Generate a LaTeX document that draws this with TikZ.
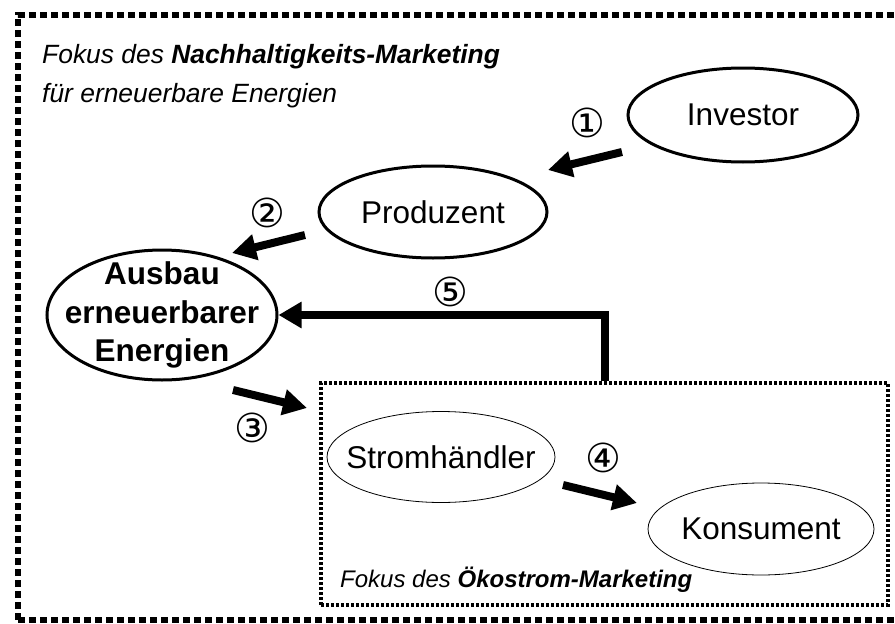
\documentclass[tikz,border=0pt]{standalone}
\usepackage{fontspec}
\setsansfont{Liberation Sans}
\newfontfamily\circfont{DejaVu Sans}
\usepackage{tikz}
\usetikzlibrary{shapes.geometric,arrows.meta}

\begin{document}
\begin{tikzpicture}[x=1pt,y=-1pt,
    actor/.style={draw,ellipse,line width=3pt,inner sep=0pt,minimum width=230pt,minimum height=94pt,font=\fontsize{31.5}{38}\selectfont},
    trader/.style={draw,ellipse,line width=0.8pt,inner xsep=-20pt,inner ysep=0pt,minimum width=228pt,minimum height=91pt,font=\fontsize{31.5}{38}\selectfont},
    stepnum/.style={font=\circfont\fontsize{40}{44}\selectfont,inner sep=0pt},
    flow/.style={-{Triangle[length=24pt,width=25pt]},line width=8pt}]
    \sffamily
    \useasboundingbox (0,0) rectangle (895,624);
    \draw[line width=6pt,dash pattern=on 7pt off 4pt] (18,620) -- (18,15) -- (915,15);
    \draw[line width=6pt,dash pattern=on 7pt off 4pt] (18,620) -- (915,620);
    \node[anchor=base west,inner sep=0pt,font=\fontsize{26.4}{39}\selectfont] (titel1) at (42,63) {\itshape Fokus des \bfseries Nachhaltigkeits-Marketing};
    \node[anchor=base west,inner sep=0pt,font=\fontsize{26.4}{39}\selectfont] (titel2) at (42,102) {\itshape für erneuerbare Energien};
    \node[actor] (inv) at (743,115) {Investor};
    \node[actor,minimum width=228pt,minimum height=92pt] (prod) at (433,212) {Produzent};
    \node[actor,inner xsep=-25pt,inner ysep=-10pt,minimum height=130pt,align=center,font=\bfseries\fontsize{31.5}{38.5}\selectfont] (ausbau) at (162,315) {Ausbau\\erneuerbarer\\Energien};
    \node[draw,line width=4pt,dash pattern=on 3pt off 2pt,minimum width=567pt,minimum height=222pt] (oeko) at (604.5,494) {};
    \node[trader] (strom) at (441,457) {Stromhändler};
    \node[trader,minimum width=226pt,minimum height=92pt] (kons) at (761,529) {Konsument};
    \node[anchor=base west,inner sep=0pt,font=\fontsize{24}{30}\selectfont] (titel3) at (340,587) {\itshape Fokus des \bfseries Ökostrom-Marketing};
    \coordinate (p1a) at (622,152);
    \coordinate (p1b) at (548,170);
    \coordinate (p2a) at (305,235);
    \coordinate (p2b) at (232,253);
    \coordinate (p3a) at (233,390);
    \coordinate (p3b) at (307,408);
    \coordinate (p4a) at (563,485);
    \coordinate (p4b) at (637,503);
    \draw[flow] (p1a) to (p1b);
    \draw[flow] (p2a) to (p2b);
    \draw[flow] (p3a) to (p3b);
    \draw[flow] (p4a) to (p4b);
    \draw[flow,-{Triangle[length=23pt,width=25pt]}] (oeko.north) |- (ausbau.east);
    \node[stepnum] (n1) at (587,123) {①};
    \node[stepnum] (n2) at (267,213) {②};
    \node[stepnum] (n3) at (252,428) {③};
    \node[stepnum] (n4) at (603,458) {④};
    \node[stepnum] (n5) at (450,292) {⑤};
\end{tikzpicture}
\end{document}
